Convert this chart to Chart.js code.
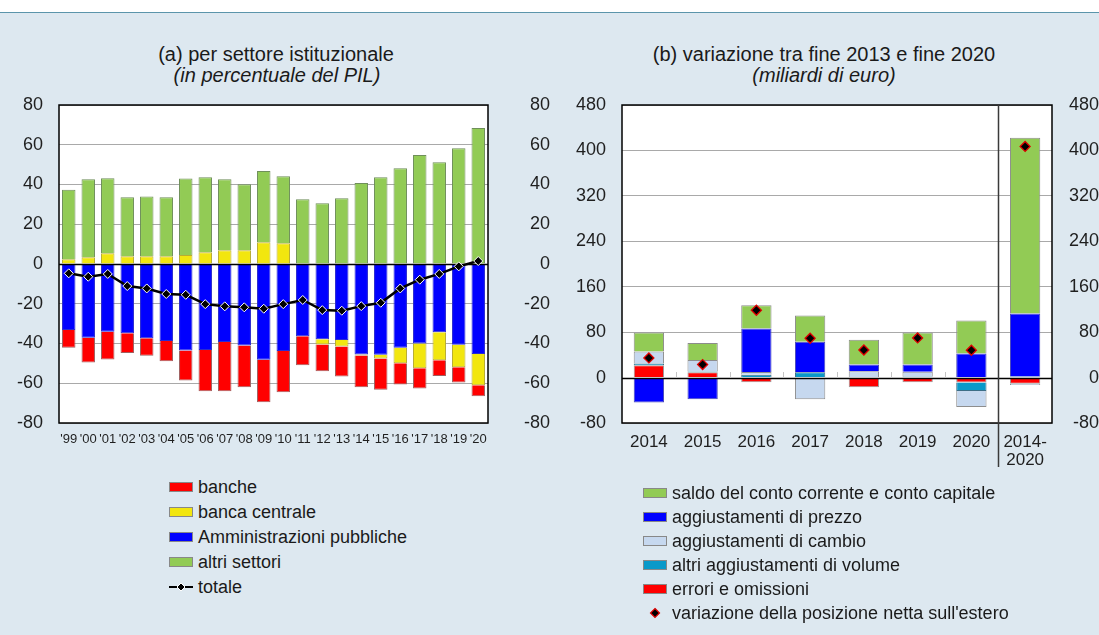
<!DOCTYPE html>
<html lang="it">
<head>
<meta charset="utf-8">
<title>Posizione netta sull'estero</title>
<script src="https://cdn.jsdelivr.net/npm/chart.js@4.4.1/dist/chart.umd.min.js"></script>
<style>
  html, body { margin: 0; padding: 0; }
  body {
    width: 1099px; height: 635px; position: relative; overflow: hidden; background: #fff;
    font-family: "Liberation Sans", Arial, sans-serif; color: #1a1a1a;
  }
  #pannello {
    position: absolute; left: 0; top: 12px; width: 1099px; height: 623px;
    background: #dde8f0; border-top: 1.5px solid #5b95ab; box-sizing: border-box;
  }
  canvas { position: absolute; }
  #graficoA { left: 0; top: 90px; }
  #graficoB { left: 560px; top: 90px; }
  .titolo { position: absolute; font-size: 20px; line-height: 22px; white-space: nowrap; transform: translateX(-50%); }
  .titolo.sotto { font-style: italic; }
  .voce { position: absolute; height: 24px; line-height: 24px; display: flex; align-items: center; font-size: 18px; white-space: nowrap; }
  .voce .box { width: 22px; height: 8px; border: 1px solid #888; margin-right: 5px; }
  .voce svg { margin-right: 5px; display: block; }
</style>
</head>
<body>
<div id="pannello"></div>

<div class="titolo" style="left:276px; top:43px;">(a) per settore istituzionale</div>
<div class="titolo sotto" style="left:277px; top:64px;">(in percentuale del PIL)</div>
<div class="titolo" style="left:824px; top:43px;">(b) variazione tra fine 2013 e fine 2020</div>
<div class="titolo sotto" style="left:824px; top:64px;">(miliardi di euro)</div>

<canvas id="graficoA" width="550" height="370"></canvas>
<canvas id="graficoB" width="539" height="400"></canvas>

<script>
/* --- (a) per settore istituzionale, in % del PIL --- */
const anni = ["'99", "'00", "'01", "'02", "'03", "'04", "'05", "'06", "'07", "'08", "'09",
              "'10", "'11", "'12", "'13", "'14", "'15", "'16", "'17", "'18", "'19", "'20"];
const banche = [-9.0, -12.4, -13.9, -10.0, -8.9, -10.1, -15.1, -20.7, -24.7, -21.0, -21.3,
                -20.7, -14.5, -13.4, -15.1, -16.0, -15.8, -10.7, -10.2, -7.9, -7.7, -5.5];
const bancaCentrale = [2.4, 3.4, 5.4, 3.9, 3.9, 3.9, 4.5, 5.9, 6.9, 6.9, 10.9,
                       10.4, 0, -2.7, -3.2, -0.5, -1.8, -7.7, -12.4, -14.1, -11.3, -15.7];
const amministrazioni = [-33.2, -37.1, -34.1, -34.8, -37.3, -38.8, -43.5, -43.3, -39.3, -41.0, -48.2,
                         -43.8, -36.4, -37.8, -38.3, -45.5, -45.7, -42.2, -40.0, -34.3, -40.6, -45.3];
const altriSettori = [34.9, 39.3, 37.8, 29.7, 30.0, 29.7, 38.5, 37.8, 35.8, 33.2, 35.9,
                      33.8, 32.6, 30.6, 33.1, 40.7, 43.7, 48.2, 54.8, 51.2, 58.3, 68.4];
const totale = [-4.7, -6.4, -5.0, -11.1, -12.3, -15.1, -15.5, -20.2, -21.3, -21.8, -22.5,
                -20.2, -18.1, -23.2, -23.5, -21.2, -19.5, -12.3, -7.9, -5.0, -1.2, 1.5];
const tickA = [-80, -60, -40, -20, 0, 20, 40, 60, 80];

/* --- (b) variazione tra fine 2013 e fine 2020, miliardi di euro --- */
const periodi = ['2014', '2015', '2016', '2017', '2018', '2019', '2020', ['2014-', '2020']];
const saldoConto = [33.5, 30.0, 41.1, 46.4, 44.0, 56.4, 58.1, 309.5];
const aggPrezzo = [-44.1, -38.2, 76.4, 53.5, 11.8, 12.9, 42.3, 111.0];
const aggCambio = [21.1, 20.1, 4.9, -38.2, 10.0, 8.2, -28.2, -2.0];
const altriVolume = [3.0, 1.5, 5.0, 9.5, 1.0, 2.0, -14.8, 2.0];
const errori = [21.7, 9.3, -8.2, 0, -17.0, -8.2, -8.8, -11.0];
const variazionePNE = [34.6, 22.9, 118.6, 69.2, 48.6, 69.8, 48.1, 407.0];
const tickB = [-80, 0, 80, 160, 240, 320, 400, 480];

Chart.defaults.font.family = '"Liberation Sans", Arial, sans-serif';
Chart.defaults.color = '#1f1f1f';

const grigliaColore = c => (c.tick.value === 0 ? 'rgba(0,0,0,0)' : '#a9a9a9');

// sfondo bianco, linea dello zero, cornice nera
const cornice = {
    id: 'cornice',
    beforeDraw(chart) {
        const { ctx, chartArea: a } = chart;
        ctx.save();
        ctx.fillStyle = '#fff';
        ctx.fillRect(a.left, a.top, a.right - a.left, a.bottom - a.top);
        ctx.restore();
    },
    beforeDatasetDraw(chart, args) {
        if (args.meta.type !== 'line') return;
        const { ctx, chartArea: a, scales } = chart;
        const y0 = Math.round(scales.y.getPixelForValue(0)) + 0.5;
        ctx.save();
        ctx.strokeStyle = '#000';
        ctx.lineWidth = 1.3;
        ctx.beginPath();
        ctx.moveTo(a.left, y0);
        ctx.lineTo(a.right, y0);
        ctx.stroke();
        ctx.restore();
    },
    afterDraw(chart) {
        const { ctx, chartArea: a } = chart;
        ctx.save();
        ctx.strokeStyle = '#000';
        ctx.lineWidth = 1.5;
        ctx.strokeRect(a.left, a.top, a.right - a.left, a.bottom - a.top);
        ctx.restore();
    }
};

// tacche sopra lo zero e separatore prima del cumulato 2014-2020
const separatore = {
    id: 'separatore',
    afterDraw(chart) {
        const { ctx, chartArea: a, scales: { x, y } } = chart;
        const n = chart.data.labels.length;
        const mezzo = (x.getPixelForValue(1) - x.getPixelForValue(0)) / 2;
        const y0 = Math.round(y.getPixelForValue(0));
        ctx.save();
        ctx.strokeStyle = '#c4c4c4';
        ctx.lineWidth = 1;
        for (let i = 0; i < n - 2; i++) {
            const px = Math.round(x.getPixelForValue(i) + mezzo) + 0.5;
            ctx.beginPath();
            ctx.moveTo(px, y0 - 6);
            ctx.lineTo(px, y0);
            ctx.stroke();
        }
        const sx = Math.round(x.getPixelForValue(n - 2) + mezzo) + 0.5;
        ctx.strokeStyle = '#3a3a3a';
        ctx.lineWidth = 1.5;
        ctx.beginPath();
        ctx.moveTo(sx, a.top);
        ctx.lineTo(sx, a.bottom + 44);
        ctx.stroke();
        ctx.restore();
    }
};

function scalaY(ticks, larghezza, destra, dimensione) {
    return {
        position: destra ? 'right' : 'left',
        stacked: true,
        min: ticks[0],
        max: ticks[ticks.length - 1],
        ticks: { stepSize: ticks[1] - ticks[0], font: { size: dimensione }, padding: 16, crossAlign: destra ? 'far' : 'near' },
        grid: destra ? { display: false, drawTicks: false } : { color: grigliaColore, drawTicks: false },
        border: { display: false },
        // larghezza fissa e niente margine extra sopra/sotto per le etichette
        afterFit: s => { s.width = larghezza; s.paddingTop = 0; s.paddingBottom = 0; }
    };
}

/* --- grafico (a) --- */
const dsTotale = {
    type: 'line', label: 'totale', data: totale, order: 0,
    borderColor: '#000', borderWidth: 2.5,
    pointStyle: 'rectRot', pointRadius: 4.5,
    pointBackgroundColor: '#000', pointBorderColor: '#fff', pointBorderWidth: 1
};
const dsAmm = { label: 'Amministrazioni pubbliche', data: amministrazioni, backgroundColor: '#0000ff', borderColor: '#2a2ad0', borderWidth: 1, order: 1 };
const dsBC = { label: 'banca centrale', data: bancaCentrale, backgroundColor: '#f2e60f', borderColor: '#b8ad30', borderWidth: 1, order: 1 };
const dsBanche = { label: 'banche', data: banche, backgroundColor: '#ff0000', borderColor: '#a06060', borderWidth: 1, order: 1 };
const dsAltri = { label: 'altri settori', data: altriSettori, backgroundColor: '#92cb55', borderColor: '#6f8f5a', borderWidth: 1, order: 1 };

new Chart(document.getElementById('graficoA'), {
    type: 'bar',
    data: { labels: anni, datasets: [dsTotale, dsAmm, dsBC, dsBanche, dsAltri] },
    options: {
        responsive: false,
        animation: false,
        layout: { padding: { top: 15 } },
        datasets: { bar: { barPercentage: 0.69, categoryPercentage: 1 } },
        plugins: { legend: { display: false }, tooltip: { enabled: false } },
        scales: {
            x: {
                stacked: true,
                grid: { display: false, drawTicks: false },
                border: { display: false },
                ticks: { font: { size: 13 }, padding: 9, maxRotation: 0, autoSkip: false },
                afterFit: s => { s.height = 37; }
            },
            y: scalaY(tickA, 59, false, 18),
            y2: scalaY(tickA, 62, true, 18)
        }
    },
    plugins: [cornice]
});

/* --- grafico (b) --- */
const dsPNE = {
    type: 'line', label: "variazione della posizione netta sull'estero", data: variazionePNE, order: 0,
    showLine: false, pointStyle: 'rectRot', pointRadius: 5,
    pointBackgroundColor: '#000', pointBorderColor: '#e00000', pointBorderWidth: 1.3
};
const dsErrori = { label: 'errori e omissioni', data: errori, backgroundColor: '#ff0000', borderColor: '#9a9a9a', borderWidth: 1, order: 1 };
const dsVolume = { label: 'altri aggiustamenti di volume', data: altriVolume, backgroundColor: '#0a99c9', borderColor: '#3d6e86', borderWidth: 1, order: 1 };
const dsCambio = { label: 'aggiustamenti di cambio', data: aggCambio, backgroundColor: '#c6d8ef', borderColor: '#8e8e8e', borderWidth: 1, order: 1 };
const dsPrezzo = { label: 'aggiustamenti di prezzo', data: aggPrezzo, backgroundColor: '#0000ff', borderColor: '#4a4ab8', borderWidth: 1, order: 1 };
const dsSaldo = { label: 'saldo del conto corrente e conto capitale', data: saldoConto, backgroundColor: '#92cb55', borderColor: '#8c8c8c', borderWidth: 1, order: 1 };

new Chart(document.getElementById('graficoB'), {
    type: 'bar',
    data: { labels: periodi, datasets: [dsPNE, dsErrori, dsVolume, dsCambio, dsPrezzo, dsSaldo] },
    options: {
        responsive: false,
        animation: false,
        layout: { padding: { top: 15 } },
        datasets: { bar: { barPercentage: 0.564, categoryPercentage: 1 } },
        plugins: { legend: { display: false }, tooltip: { enabled: false } },
        scales: {
            x: {
                stacked: true,
                grid: { display: false, drawTicks: false },
                border: { display: false },
                ticks: { font: { size: 17, lineHeight: 1.1 }, padding: 9.5, maxRotation: 0, autoSkip: false },
                afterFit: s => { s.height = 67; }
            },
            y: scalaY(tickB, 62, false, 18),
            y2: scalaY(tickB, 47, true, 18)
        }
    },
    plugins: [cornice, separatore]
});

/* --- legende --- */
function simbolo(ds) {
    if (ds.type === 'line' && ds.showLine === false) {
        return '<svg width="24" height="12" viewBox="0 0 24 12"><polygon points="12,1.5 16.5,6 12,10.5 7.5,6" fill="#000" stroke="#e00000" stroke-width="1.2"/></svg>';
    }
    if (ds.type === 'line') {
        return '<svg width="24" height="10" viewBox="0 0 24 10"><line x1="0" y1="5" x2="24" y2="5" stroke="#000" stroke-width="2"/>' +
               '<polygon points="12,1 16,5 12,9 8,5" fill="#000" stroke="#fff" stroke-width="1"/></svg>';
    }
    return `<span class="box" style="background:${ds.backgroundColor}"></span>`;
}

function legenda(voci, x, yCentro, passo) {
    voci.forEach((ds, i) => {
        const riga = document.createElement('div');
        riga.className = 'voce';
        riga.style.left = x + 'px';
        riga.style.top = (yCentro + i * passo - 12) + 'px';
        riga.innerHTML = simbolo(ds) + '<span></span>';
        riga.lastChild.textContent = ds.label;
        document.body.appendChild(riga);
    });
}

legenda([dsBanche, dsBC, dsAmm, dsAltri, dsTotale], 169, 487.3, 24.8);
legenda([dsSaldo, dsPrezzo, dsCambio, dsVolume, dsErrori, dsPNE], 643, 492.7, 24.1);
</script>
</body>
</html>
